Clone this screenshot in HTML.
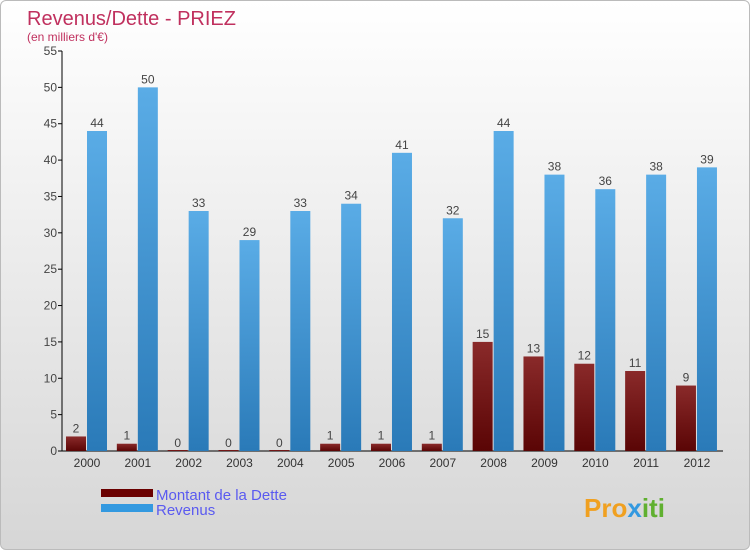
<!DOCTYPE html>
<html><head><meta charset="utf-8"><style>
body{margin:0;width:750px;height:550px;overflow:hidden;font-family:"Liberation Sans",sans-serif}
#wrap{position:absolute;left:0;top:0;width:748px;height:548px;border:1px solid #bbb;border-radius:6px;background:linear-gradient(#fff,#d6d6d6)}
</style></head><body>
<div id="wrap">
<svg width="750" height="550" id="svg">
<defs>
<linearGradient id="gb" x1="0" x2="0" y1="0" y2="1"><stop offset="0" stop-color="#5aace6"/><stop offset="1" stop-color="#2a7ab8"/></linearGradient>
<linearGradient id="gr" x1="0" x2="0" y1="0" y2="1"><stop offset="0" stop-color="#8a2a2a"/><stop offset="1" stop-color="#5a0505"/></linearGradient>
</defs>
<text x="26" y="24" font-size="20" fill="#c0305e">Revenus/Dette - PRIEZ</text>
<text x="26" y="40" font-size="12" fill="#c0305e">(en milliers d'€)</text>
<g id="g"></g>
<rect x="100" y="488" width="52" height="8" fill="#6a0000"/>
<rect x="100" y="503" width="52" height="8" fill="#3399e0"/>
<text x="155" y="499" font-size="15" fill="#5a5af0">Montant de la Dette</text>
<text x="155" y="514" font-size="15" fill="#5a5af0">Revenus</text>
<text x="583" y="516" font-size="26" font-weight="bold" fill="#f0a020">Pro<tspan fill="#3399e0">x</tspan><tspan fill="#60b030">iti</tspan></text>
</svg></div>
<script>
const years=["2000","2001","2002","2003","2004","2005","2006","2007","2008","2009","2010","2011","2012"];
const dette=[2,1,0,0,0,1,1,1,15,13,12,11,9];
const revenus=[44,50,33,29,33,34,41,32,44,38,36,38,39];
const ticks=[0,5,10,15,20,25,30,35,40,45,50,55];
const g=document.getElementById('g');const NS='http://www.w3.org/2000/svg';
const y=v=>450-v*400/55;const x=i=>86+i*50.83;
function mk(t,a,txt){const e=document.createElementNS(NS,t);for(const k in a)e.setAttribute(k,a[k]);if(txt!==undefined)e.textContent=txt;g.appendChild(e);return e;}
let e;
e=mk('line',{x1:61,y1:50,x2:61,y2:450,stroke:'#000'});


e=mk('line',{x1:61,y1:450,x2:722,y2:450,stroke:'#000'});


ticks.forEach(t=>{
e=mk('line',{x1:57,x2:61,y1:y(t),y2:y(t),stroke:'#000'});


e=mk('text',{x:56,y:y(t)+4,'font-size':12,fill:'#444','text-anchor':'end'},t);


});
years.forEach((yr,i)=>{
const cx=x(i);
e=mk('text',{x:cx,y:466,'font-size':12,fill:'#333','text-anchor':'middle'},yr);


e=mk('rect',{x:cx-21,y:y(dette[i])-(dette[i]?0:1),width:20,height:Math.max(dette[i]*400/55,1),fill:'url(#gr)'});


e=mk('text',{x:cx-11,y:y(dette[i])-4,'font-size':12,fill:'#444','text-anchor':'middle'},dette[i]);


e=mk('rect',{x:cx,y:y(revenus[i]),width:20,height:revenus[i]*400/55,fill:'url(#gb)'});


e=mk('text',{x:cx+10,y:y(revenus[i])-4,'font-size':12,fill:'#444','text-anchor':'middle'},revenus[i]);


});
</script>
</body></html>
